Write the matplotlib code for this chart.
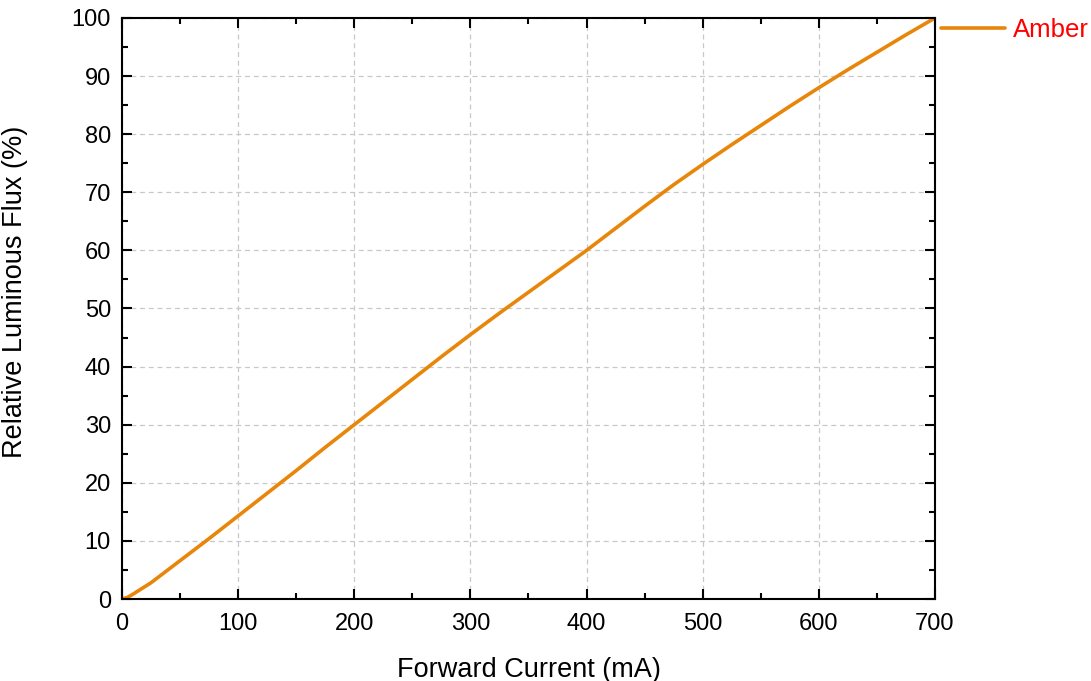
import matplotlib
matplotlib.use("Agg")
import matplotlib.pyplot as plt
from matplotlib.ticker import MultipleLocator

plt.rcParams['font.family'] = ['Liberation Sans', 'DejaVu Sans']

current_ma = [0, 5, 10, 25, 50, 75, 100, 125, 150, 175, 200, 225, 250, 275, 300,
              325, 350, 375, 400, 425, 450, 475, 500, 525, 550, 575, 600, 625,
              650, 675, 700]
flux_pct = [0, 0.3, 0.9, 2.8, 6.6, 10.4, 14.3, 18.2, 22.1, 26.1, 30.0, 33.9, 37.8,
            41.7, 45.5, 49.2, 52.8, 56.4, 60.0, 63.8, 67.6, 71.3, 74.8, 78.2, 81.5,
            84.8, 88.0, 91.1, 94.1, 97.1, 100]
series_label = "Amber"

fig = plt.figure(figsize=(10.91, 6.81), dpi=100)
ax = fig.add_axes([0.1118, 0.1204, 0.7452, 0.8532])

ax.plot(current_ma, flux_pct, color='#E8860A', lw=2.6, label=series_label,
        solid_capstyle='round', solid_joinstyle='round')

ax.set_xlim(0, 700)
ax.set_ylim(0, 100)
ax.xaxis.set_major_locator(MultipleLocator(100))
ax.xaxis.set_minor_locator(MultipleLocator(50))
ax.yaxis.set_major_locator(MultipleLocator(10))
ax.yaxis.set_minor_locator(MultipleLocator(5))
ax.tick_params(which='both', direction='in', top=True, right=True, labelsize=17, width=1.5)
ax.tick_params(which='major', length=7)
ax.tick_params(axis='x', which='major', pad=10)
ax.tick_params(axis='y', which='major', pad=8)
ax.tick_params(which='minor', length=4)
for s in ax.spines.values():
    s.set_linewidth(1.5)
ax.grid(True, which='major', ls=(0, (4, 3)), color='#c8c8c8', lw=0.9)
ax.set_axisbelow(True)

ax.set_xlabel("Forward Current (mA)", fontsize=19.5, labelpad=16)
ax.set_ylabel("Relative Luminous Flux (%)", fontsize=19.5)
ax.yaxis.set_label_coords(-0.116, 0.528)

leg = fig.legend(loc='center left', bbox_to_anchor=(941 / 1091, 1 - 30 / 681),
                 frameon=False, fontsize=18.5, handlelength=2.5, handletextpad=0.3,
                 labelcolor='red', borderaxespad=0.0, borderpad=0.0)

fig.savefig("out.png", dpi=100)
